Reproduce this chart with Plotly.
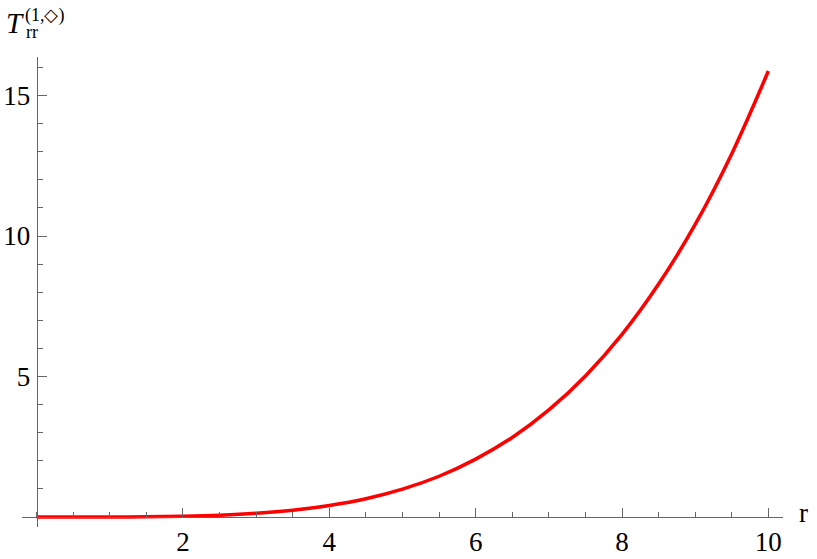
import plotly.graph_objects as go

# Data
r_vals = [0, 0.5, 1, 1.5, 2, 2.5, 3, 3.5, 4, 4.5, 5, 5.5, 6, 6.5, 7, 7.5, 8, 8.5, 9, 9.5, 10]
t_vals = [0, 0.0001, 0.0016, 0.008, 0.025, 0.062, 0.13, 0.24, 0.41, 0.65, 0.99,
          1.45, 2.06, 2.83, 3.81, 5.02, 6.5, 8.29, 10.41, 12.93, 15.87]
x_ticks = [2, 4, 6, 8, 10]
y_ticks = [5, 10, 15]

x_range = [-0.2, 10.2]
y_range = [-0.356, 16.37]

FONT = "Liberation Serif"
AX = "#666666"

fig = go.Figure()
fig.add_trace(go.Scatter(x=r_vals, y=t_vals, mode="lines",
                         line=dict(color="#ff0000", width=3.5, shape="spline"),
                         showlegend=False, hoverinfo="skip"))

xpos = (0 - y_range[0]) / (y_range[1] - y_range[0])
ypos = (0 - x_range[0]) / (x_range[1] - x_range[0])

fig.update_layout(
    width=817, height=559,
    margin=dict(l=22, r=34, t=57, b=32),
    paper_bgcolor="white", plot_bgcolor="white",
    font=dict(family=FONT, color="black", size=27),
    hovermode=False,
    xaxis=dict(range=x_range, anchor="free", position=xpos, showline=True,
               automargin=False,
               linecolor=AX, linewidth=1.2, showgrid=False, zeroline=False,
               tickmode="array", tickvals=x_ticks, ticks="inside", ticklen=9,
               tickcolor=AX, tickwidth=1.2, ticklabelstandoff=1,
               tickfont=dict(family=FONT, size=27, color="black"),
               minor=dict(tick0=0, dtick=0.5, ticks="inside", ticklen=5,
                          tickcolor=AX, tickwidth=1, showgrid=False)),
    yaxis=dict(range=y_range, anchor="free", position=ypos, showline=True,
               automargin=False,
               linecolor=AX, linewidth=1.2, showgrid=False, zeroline=False,
               tickmode="array", tickvals=y_ticks, ticks="inside", ticklen=9,
               tickcolor=AX, tickwidth=1.2, ticklabelstandoff=1,
               tickfont=dict(family=FONT, size=27, color="black"),
               minor=dict(tick0=0, dtick=1, ticks="inside", ticklen=5,
                          tickcolor=AX, tickwidth=1, showgrid=False)),
)

# Axis labels
fig.add_annotation(text="r", xref="paper", yref="paper", x=1.0, y=xpos,
                   xanchor="left", yanchor="middle", xshift=14, yshift=4,
                   showarrow=False, font=dict(family=FONT, size=27, color="black"))
fig.add_annotation(text="<i>T</i>", xref="paper", yref="paper", x=0, y=1,
                   xanchor="left", yanchor="bottom", xshift=-17, yshift=17,
                   borderpad=0,
                   showarrow=False, font=dict(family=FONT, size=29, color="black"))
fig.add_annotation(text="(1,◇)", xref="paper", yref="paper", x=0, y=1,
                   xanchor="left", yanchor="bottom", xshift=2, yshift=30,
                   borderpad=0,
                   showarrow=False, font=dict(family=FONT, size=18, color="black"))
fig.add_annotation(text="rr", xref="paper", yref="paper", x=0, y=1,
                   xanchor="left", yanchor="bottom", xshift=3, yshift=14,
                   borderpad=0,
                   showarrow=False, font=dict(family=FONT, size=18, color="black"))

fig.write_html("out.html", config={"displayModeBar": False},
               post_script="document.body.style.margin='0';")
